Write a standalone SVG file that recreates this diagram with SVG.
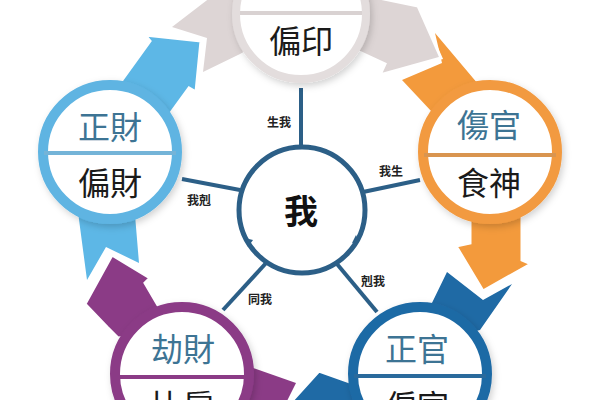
<svg xmlns="http://www.w3.org/2000/svg" width="600" height="400" viewBox="0 0 600 400">
<defs>
<filter id="sh" x="-30%" y="-30%" width="160%" height="160%">
<feDropShadow dx="2" dy="3" stdDeviation="3.5" flood-color="#000" flood-opacity="0.18"/>
</filter>
<style>
.ring{fill:#fff;stroke-width:10}
.lbl{font-family:"Noto Sans CJK TC","Noto Sans CJK SC",sans-serif;font-size:32px;text-anchor:middle;font-weight:400}
.up{fill:#3d7494}
.dn{fill:#1a1a1a}
.sm{font-family:"Noto Sans CJK TC","Noto Sans CJK SC",sans-serif;font-size:12px;font-weight:700;fill:#222;text-anchor:middle}
.spoke{stroke:#2c5f87;stroke-width:4;fill:none}
.head{stroke:#fff;stroke-width:3;stroke-linejoin:miter}
.div{stroke-width:4}
</style>
</defs>
<rect width="600" height="400" fill="#fff"/>

<g id="connectors">
<g id="cycle-tails">
<polygon fill="#ddd5d5" points="172,27 215,-6 292,-6 265,40 240,54 203,72 207,38"/>
<polygon fill="#f39a3c" points="435,33 478,84 470,120 432,112 402,80 442,63"/>
<polygon fill="#1f6aa5" points="447,272 483,300 512,284 480,330 440,340 430,307"/>
<polygon fill="#8b3b86" points="245,365 296,383 285,405 240,405"/>
<polygon fill="#5db7e6" points="78,212 87,280 106,247 139,263 135,215 110,200"/>
</g>
<g id="cycle-heads">
<polygon class="head" fill="#5db7e6" points="112,100 122,80 150,41 145,35 201,41 196,92 189,88 168,117 140,130"/>
<polygon class="head" fill="#ddd5d5" points="340,-10 418,6 441,58 380,75 385,64 355,50 330,30"/>
<polygon class="head" fill="#f39a3c" points="470,205 470,243 456,246 483,291 531,264 522,260 522,205"/>
<polygon class="head" fill="#1f6aa5" points="350,382 319,371 290,403 370,405"/>
<polygon class="head" fill="#8b3b86" points="112,255 150,278 145,283 162,312 150,335 118,338 107,327 85,304"/>
</g>
<g id="spokes">
<line class="spoke" x1="301" y1="88" x2="301" y2="148"/>
<line class="spoke" x1="363" y1="192" x2="420" y2="180"/>
<line class="spoke" x1="240" y1="190" x2="182" y2="179"/>
<line class="spoke" x1="267" y1="262" x2="223" y2="310"/>
<line class="spoke" x1="337" y1="264" x2="377" y2="312"/>
<text class="sm" x="279" y="126.5">生我</text>
<text class="sm" x="391" y="175.5">我生</text>
<text class="sm" x="199" y="204.5">我剋</text>
<text class="sm" x="260" y="303.5">同我</text>
<text class="sm" x="373" y="285.5">剋我</text>
</g>
</g>

<g id="node-pianyin">
<circle cx="301" cy="14" r="65" fill="#fff" stroke="#e3dddd" stroke-width="8" filter="url(#sh)"/>
<line class="div" x1="240" y1="13" x2="362" y2="13" stroke="#d9d2d2"/>
<text class="lbl dn" x="301" y="53" font-size="33">偏印</text>
</g>

<g id="node-cai">
<circle class="ring" cx="110" cy="152" r="67" stroke="#5fb4e2" filter="url(#sh)"/>
<line class="div" x1="44" y1="153" x2="176" y2="153" stroke="#74b4d8"/>
<text class="lbl up" x="110" y="139">正財</text>
<text class="lbl dn" x="110" y="195">偏財</text>
</g>

<g id="node-shishang">
<circle class="ring" cx="490" cy="152" r="67" stroke="#f29a40" filter="url(#sh)"/>
<line class="div" x1="424" y1="155" x2="556" y2="155" stroke="#d99550"/>
<text class="lbl up" x="489" y="137">傷官</text>
<text class="lbl dn" x="489" y="195">食神</text>
</g>

<g id="node-guan">
<circle class="ring" cx="420" cy="374" r="67" stroke="#1f6aa5" filter="url(#sh)"/>
<line class="div" x1="354" y1="376" x2="486" y2="376" stroke="#2a6a9c"/>
<text class="lbl up" x="417" y="361">正官</text>
<text class="lbl dn" x="417" y="418">偏官</text>
</g>

<g id="node-bijie">
<circle class="ring" cx="182" cy="374" r="67" stroke="#8b3b86" filter="url(#sh)"/>
<line class="div" x1="116" y1="377" x2="248" y2="377" stroke="#8b3b86"/>
<text class="lbl up" x="183" y="361">劫財</text>
<text class="lbl dn" x="183" y="418">比肩</text>
</g>

<g id="node-wo">
<circle cx="302" cy="210" r="63" fill="#fff" stroke="#2c5f87" stroke-width="5"/>
<polygon fill="#2c5f87" points="245,238 253,240 248,247"/>
<polygon fill="#2c5f87" points="352,243 359,242 356,235"/>
<text x="301" y="224" font-family="Noto Sans CJK TC,Noto Sans CJK SC,sans-serif" font-size="34" font-weight="700" fill="#111" text-anchor="middle">我</text>
</g>
</svg>
